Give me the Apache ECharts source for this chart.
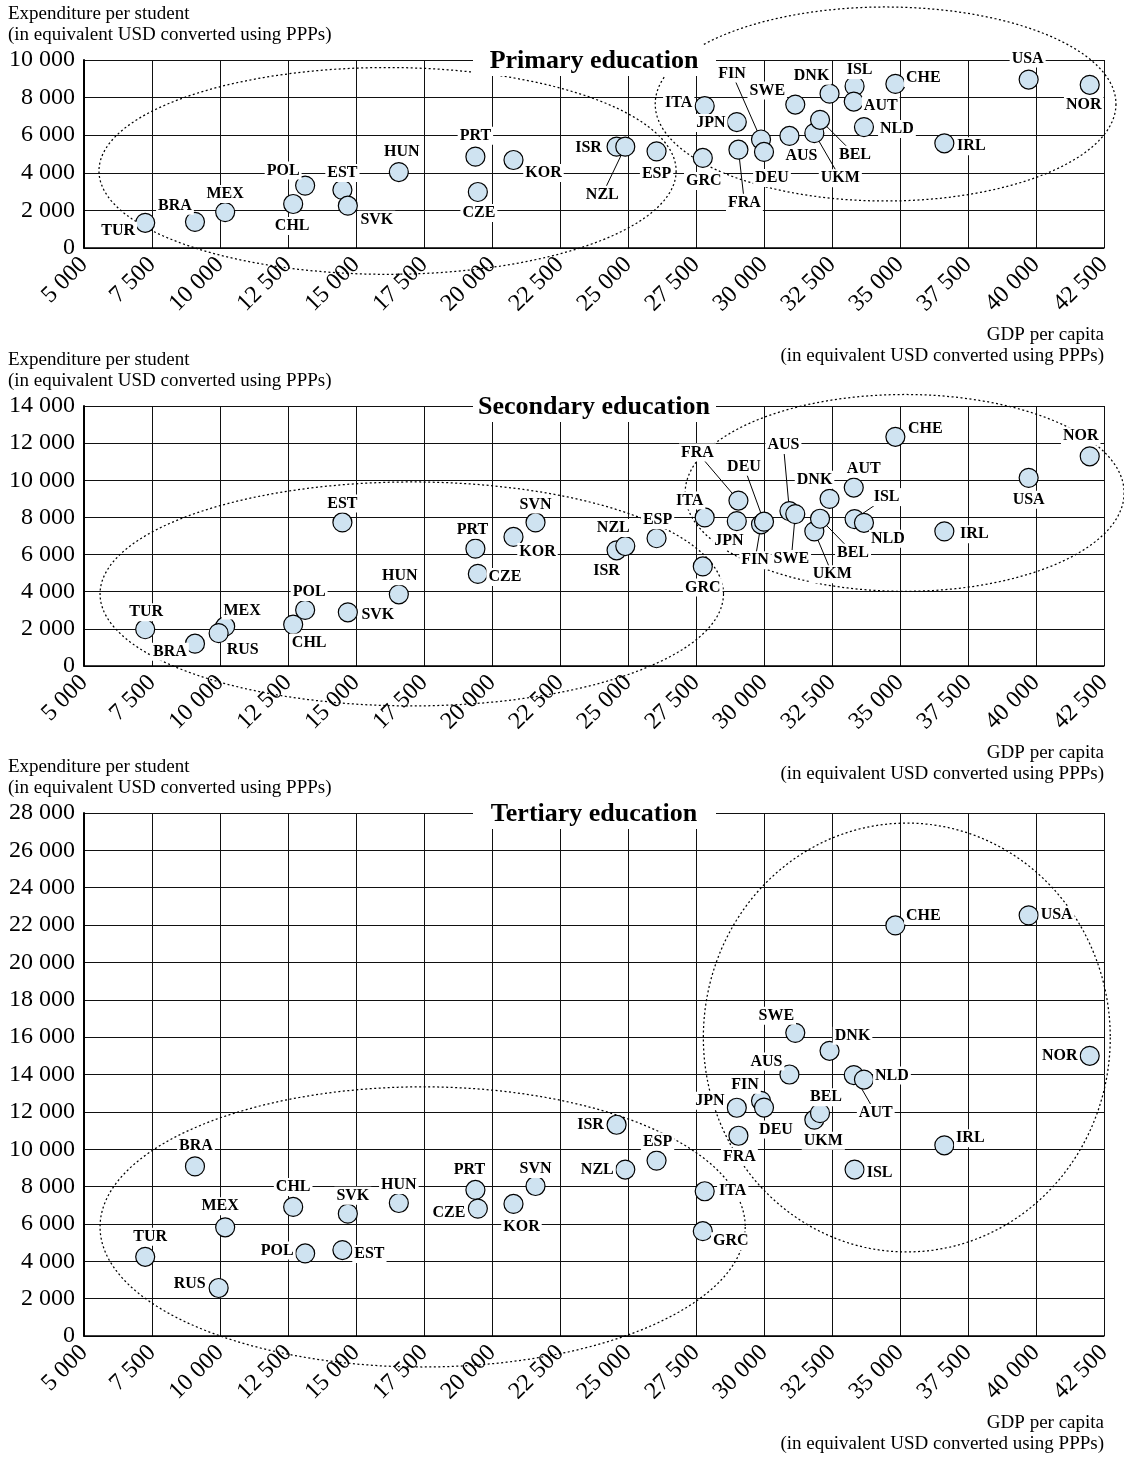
<!DOCTYPE html>
<html><head><meta charset="utf-8">
<script src="https://cdn.jsdelivr.net/npm/echarts@6/dist/echarts.min.js"></script>
<style>html,body{margin:0;padding:0;background:#fff}#c{width:1124px;height:1457px}</style>
</head><body><div id="c"></div>
<script>
// ---------------- DATA ----------------
const countries = ['TUR','BRA','MEX','RUS','CHL','POL','EST','SVK','HUN','PRT','CZE','KOR','SVN','ISR','NZL','ESP','ITA','GRC','JPN','FRA','FIN','DEU','AUS','SWE','UKM','BEL','DNK','ISL','AUT','NLD','CHE','IRL','USA','NOR'];
const gdpPerCapita = [7250,9080,10190,9950,12690,13130,14500,14700,16575,19390,19480,20790,21600,24580,24900,26050,27820,27750,29000,29060,29890,30000,30935,31150,31850,32060,32410,33330,33300,33675,34830,36630,39730,41975];
const primary = [1340,1390,1910,null,2340,3320,3090,2250,4040,4860,2980,4680,null,5390,5390,5140,7550,4790,6700,5230,5770,5110,5960,7630,6110,6820,8210,8610,7790,6430,8730,5570,8960,8680];
const secondary = [1980,1200,2130,1770,2230,3020,7730,2890,3860,6320,4960,6950,7730,6230,6460,6880,8000,5360,7800,8910,7630,7770,8340,8180,7250,7930,9000,7910,9610,7710,12340,7250,10130,11290];
const tertiary = [4240,9080,5820,2570,6910,4420,4600,6550,7120,7820,6820,7070,8030,11310,8910,9390,7750,5610,12220,10720,12590,12230,14000,16230,11580,11930,15270,8910,13970,13730,21980,10210,22520,15000];
const panelTitles = ['Primary education','Secondary education','Tertiary education'];
const xTickLabels = ['5 000','7 500','10 000','12 500','15 000','17 500','20 000','22 500','25 000','27 500','30 000','32 500','35 000','37 500','40 000','42 500'];
const yTickLabels = ['0','2 000','4 000','6 000','8 000','10 000','12 000','14 000','16 000','18 000','20 000','22 000','24 000','26 000','28 000'];
const yMax = [10000, 14000, 28000];
const yAxisName = ['Expenditure per student', '(in equivalent USD converted using PPPs)'];
const xAxisName = ['GDP per capita', '(in equivalent USD converted using PPPs)'];

// ---------------- ANNOTATION LAYOUT ----------------
// dashed group ellipses: [centre GDP, centre expenditure, x radius, y radius] (data units)
const ELLIPSES = [
  [[16160, 4100, 10610, 5500], [34470, 7660, 8470, 5160]],
  [[17050, 3880, 11460, 6030], [35170, 9320, 8070, 5300]],
  [[17450, 5840, 11860, 7500], [35250, 15980, 7480, 11480]]
];
// label offsets in pixels from the marker centre; third value = leader line
const LABEL_OFF = [
 {TUR:[-27,8],BRA:[-20,-16],MEX:[0,-18],CHL:[-1,22],POL:[-22,-15],EST:[0,-17],SVK:[29,14],HUN:[3,-20],PRT:[0,-21],CZE:[1,21],KOR:[30,13],
  ISR:[-28,1],NZL:[-23,48,1],ESP:[0,22],ITA:[-26,-3],GRC:[1,23],JPN:[-26,1],FIN:[-29,-66,1],FRA:[6,53,1],DEU:[8,26],SWE:[-28,-14],AUS:[12,20],
  UKM:[26,45,1],BEL:[35,35,1],DNK:[-18,-18],ISL:[5,-16],AUT:[27,4],NLD:[33,2],CHE:[28,-6],IRL:[27,3],USA:[-1,-21],NOR:[-6,20]},
 {TUR:[1,-17],BRA:[-25,8],MEX:[17,-16],RUS:[24,17],CHL:[16,18],POL:[4,-18],EST:[0,-19],SVK:[30,3],HUN:[1,-18],PRT:[-3,-19],CZE:[27,3],KOR:[24,15],SVN:[0,-18],
  NZL:[-12,-18],ISR:[-10,21],ESP:[1,-18],ITA:[-15,-17],GRC:[0,21],FRA:[-41,-48,1],JPN:[-8,20],DEU:[-20,-55,1],FIN:[-6,36,1],AUS:[-6,-66,1],SWE:[-4,45,1],
  UKM:[18,43,1],BEL:[33,34,1],DNK:[-15,-19],AUT:[10,-19],ISL:[32,-22,1],NLD:[24,16],CHE:[30,-8],IRL:[30,3],USA:[0,22],NOR:[-9,-20]},
 {BRA:[1,-21],TUR:[5,-20],MEX:[-5,-21],RUS:[-29,-4],CHL:[0,-20],POL:[-28,-3],SVK:[5,-18],EST:[27,4],HUN:[0,-18],PRT:[-6,-20],CZE:[-29,4],KOR:[8,23],SVN:[0,-17],
  ISR:[-26,0],ESP:[1,-19],NZL:[-28,0],ITA:[28,0],GRC:[28,10],FRA:[1,21],DEU:[12,22],UKM:[9,21],IRL:[26,-7],ISL:[25,3],AUT:[22,38,1],CHE:[28,-10],USA:[28,0],
  SWE:[-19,-17],DNK:[23,-15],AUS:[-23,-13],NLD:[28,-4],NOR:[-30,0],FIN:[-16,-16],JPN:[-27,-7],BEL:[6,-16]}
];

const FONT = '"Liberation Serif", "Times New Roman", serif';
const grids = [
  {left:84, top:60, width:1020, height:188},
  {left:84, top:406, width:1020, height:260},
  {left:84, top:813, width:1020, height:523}
];
const panels = [primary, secondary, tertiary];

const chart = echarts.init(document.getElementById('c'));

function pointData(vals){
  const out = [];
  vals.forEach((v,i)=>{ if(v!==null) out.push([gdpPerCapita[i], v, i]); });
  return out;
}

const series = [];
const graphic = [];
panels.forEach((vals, p) => {
  const pts = pointData(vals);
  // ellipses
  series.push({
    type:'custom', xAxisIndex:p, yAxisIndex:p, z:1, silent:true, clip:false,
    encode:{x:0,y:1},
    data: ELLIPSES[p],
    renderItem:(params, api)=>{
      const c = api.coord([api.value(0), api.value(1)]);
      const s = api.size([api.value(2), api.value(3)]);
      const ptsE = [];
      for(let k=0;k<240;k++){ const t=k/240*Math.PI*2; ptsE.push([c[0]+s[0]*Math.cos(t), c[1]+s[1]*Math.sin(t)]); }
      return {type:'polygon', shape:{points:ptsE}, style:{fill:null, stroke:'#000', lineWidth:1.25, lineDash:[2,2.5]}};
    }
  });
  // leader lines
  series.push({
    type:'custom', xAxisIndex:p, yAxisIndex:p, z:2, silent:true, clip:false,
    encode:{x:0,y:1},
    data: pts.filter(d => (LABEL_OFF[p][countries[d[2]]]||[])[2]),
    renderItem:(params, api)=>{
      const c = api.coord([api.value(0), api.value(1)]);
      const o = LABEL_OFF[p][countries[api.value(2)]];
      return {type:'line', shape:{x1:c[0], y1:c[1], x2:c[0]+o[0], y2:c[1]+o[1]}, style:{stroke:'#000', lineWidth:1}};
    }
  });
  // markers
  series.push({
    type:'scatter', xAxisIndex:p, yAxisIndex:p, z:3, silent:true,
    symbol:'circle', symbolSize:19,
    itemStyle:{color:'#cfe3f1', borderColor:'#000', borderWidth:1.2, opacity:1},
    data: pts.map(d=>[d[0], d[1]])
  });
  // labels
  series.push({
    type:'custom', xAxisIndex:p, yAxisIndex:p, z:4, silent:true, clip:false,
    encode:{x:0,y:1},
    data: pts,
    renderItem:(params, api)=>{
      const c = api.coord([api.value(0), api.value(1)]);
      const name = countries[api.value(2)];
      const o = LABEL_OFF[p][name] || [0,-18];
      return {type:'text', x:c[0]+o[0], y:c[1]+o[1],
        style:{text:name, font:'bold 16px '+FONT, fill:'#000', align:'center', verticalAlign:'middle',
               backgroundColor:'#fff', padding:[1,2]}};
    }
  });
  const g = grids[p];
  const cx = g.left + g.width/2;
  // title box
  graphic.push({type:'rect', z:100, shape:{x:473, y:g.top-15, width:243, height:31}, style:{fill:'#fff'}});
  graphic.push({type:'text', z:101, x:cx, y:g.top+1, style:{text:panelTitles[p], font:'bold 26px '+FONT, fill:'#000', align:'center', verticalAlign:'middle', textAlign:'center', textVerticalAlign:'middle'}});
  // axis names
  graphic.push({type:'text', z:101, x:8, y:g.top-46, style:{text:yAxisName[0], font:'19px '+FONT, fill:'#000', align:'left', verticalAlign:'middle', textAlign:'left', textVerticalAlign:'middle'}});
  graphic.push({type:'text', z:101, x:8, y:g.top-25, style:{text:yAxisName[1], font:'19px '+FONT, fill:'#000', align:'left', verticalAlign:'middle', textAlign:'left', textVerticalAlign:'middle'}});
  const by = g.top + g.height;
  graphic.push({type:'text', z:101, x:g.left+g.width, y:by+87, style:{text:xAxisName[0], font:'19px '+FONT, fill:'#000', align:'right', verticalAlign:'middle', textAlign:'right', textVerticalAlign:'middle'}});
  graphic.push({type:'text', z:101, x:g.left+g.width, y:by+108, style:{text:xAxisName[1], font:'19px '+FONT, fill:'#000', align:'right', verticalAlign:'middle', textAlign:'right', textVerticalAlign:'middle'}});
});

chart.setOption({
  animation:false,
  backgroundColor:'#fff',
  grid: grids.map(g=>Object.assign({containLabel:false}, g)),
  xAxis: grids.map((g,i)=>({
    gridIndex:i, type:'value', min:5000, max:42500, interval:2500,
    axisLine:{show:true, onZero:false, lineStyle:{color:'#000', width:1.5}},
    axisTick:{show:false},
    splitLine:{show:true, lineStyle:{color:'#111', width:1}},
    axisLabel:{rotate:45, margin:13, fontFamily:FONT, fontSize:24, color:'#000',
      formatter:v=>xTickLabels[Math.round((v-5000)/2500)]}
  })),
  yAxis: grids.map((g,i)=>({
    gridIndex:i, type:'value', min:0, max:yMax[i], interval:2000,
    axisLine:{show:true, lineStyle:{color:'#000', width:2}},
    axisTick:{show:false},
    splitLine:{show:true, lineStyle:{color:'#111', width:1}},
    axisLabel:{margin:9, fontFamily:FONT, fontSize:24, color:'#000',
      formatter:v=>yTickLabels[Math.round(v/2000)]}
  })),
  series: series,
  graphic: graphic
});
</script></body></html>
